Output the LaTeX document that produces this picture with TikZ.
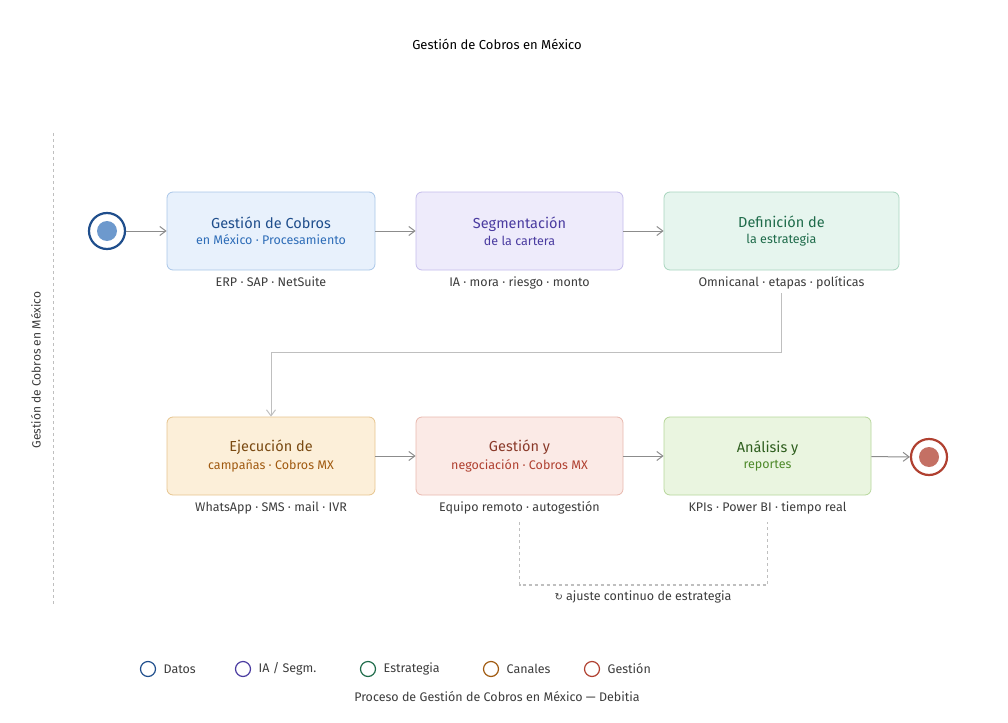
\documentclass[tikz,border=0pt]{standalone}
\usepackage{fontspec}
\setmainfont{Fira Sans}
\usetikzlibrary{positioning,arrows.meta,calc}
\definecolor{lineg}{RGB}{140,140,140}
\definecolor{txt}{RGB}{60,60,60}
\definecolor{bfill}{RGB}{232,241,252}\definecolor{bdraw}{RGB}{169,198,232}\definecolor{btit}{RGB}{31,78,140}\definecolor{bsub}{RGB}{46,109,184}
\definecolor{pfill}{RGB}{238,235,251}\definecolor{pdraw}{RGB}{196,188,235}\definecolor{ptit}{RGB}{74,59,160}
\definecolor{gfill}{RGB}{230,245,238}\definecolor{gdraw}{RGB}{168,213,190}\definecolor{gtit}{RGB}{30,107,74}
\definecolor{ofill}{RGB}{252,239,217}\definecolor{odraw}{RGB}{230,196,142}\definecolor{otit}{RGB}{122,74,18}\definecolor{osub}{RGB}{160,90,16}
\definecolor{rfill}{RGB}{251,234,230}\definecolor{rdraw}{RGB}{232,184,174}\definecolor{rtit}{RGB}{138,58,42}\definecolor{rsub}{RGB}{176,64,48}
\definecolor{lfill}{RGB}{234,245,224}\definecolor{ldraw}{RGB}{182,214,154}\definecolor{ltit}{RGB}{46,94,30}\definecolor{lsub}{RGB}{78,138,42}
\tikzset{
  stepbox/.style={draw=#1draw, fill=#1fill, rounded corners=6pt, line width=0.8pt,
    minimum height=78pt, align=center, inner sep=0pt},
  tag/.style={text=txt, font=\fontsize{12.5}{14}\selectfont},
  flow/.style={draw=lineg, line width=1pt, -{Straight Barb[length=6pt,width=9pt]}},
}
\newcommand\stagetxt[3]{{\fontsize{14.5}{17}\selectfont\color{#1tit}#2}\\[4pt]{\fontsize{12.5}{14}\selectfont\color{#1sub}#3}}
\colorlet{psub}{ptit}\colorlet{gsub}{gtit}

\begin{document}
\begin{tikzpicture}[x=1pt,y=-1pt]
\useasboundingbox (0,0) rectangle (1008,722);
\node[text=black, font=\fontsize{13}{15}\selectfont] (title) at (497,44) {Gestión de Cobros en México};

\draw[lightgray, dashed, line width=0.8pt] (53,133) -- (53,605);
\node[rotate=90, text=txt, font=\fontsize{12}{14}\selectfont] (lane) at (36,370) {Gestión de Cobros en México};

% first row
\node[stepbox=b, minimum width=208pt] (s1) at (271,231) {\stagetxt{b}{Gestión de Cobros}{en México · Procesamiento}};
\node[stepbox=p, minimum width=207pt] (s2) at (519.5,231) {\stagetxt{p}{Segmentación}{de la cartera}};
\node[stepbox=g, minimum width=235pt] (s3) at (781.5,231) {\stagetxt{g}{Definición de}{la estrategia}};
% second row
\node[stepbox=o, minimum width=208pt] (s4) at (271,456) {\stagetxt{o}{Ejecución de}{campañas · Cobros MX}};
\node[stepbox=r, minimum width=207pt] (s5) at (519.5,456) {\stagetxt{r}{Gestión y}{negociación · Cobros MX}};
\node[stepbox=l, minimum width=207pt] (s6) at (767.5,456) {\stagetxt{l}{Análisis y}{reportes}};

\node[tag, below=3pt of s1] (t1) {ERP · SAP · NetSuite};
\node[tag, below=3pt of s2] (t2) {IA · mora · riesgo · monto};
\node[tag, below=3pt of s3] (t3) {Omnicanal · etapas · políticas};
\node[tag, below=3pt of s4] (t4) {WhatsApp · SMS · mail · IVR};
\node[tag, below=3pt of s5] (t5) {Equipo remoto · autogestión};
\node[tag, below=3pt of s6] (t6) {KPIs · Power BI · tiempo real};

\node[circle, draw=btit, line width=2.2pt, fill=white, minimum size=36pt, inner sep=0pt] (start) at (107,231) {};
\fill[bsub!70] (start) circle (10pt);
\node[circle, draw=rsub, line width=2.2pt, fill=white, minimum size=36pt, inner sep=0pt] (finish) at (929,457) {};
\fill[rsub!75] (finish) circle (10pt);

\draw[flow] (start) -- (s1);
\draw[flow] (s1) -- (s2);
\draw[flow] (s2) -- (s3);
\draw[flow, draw=lightgray] (t3.south -| s3) -- ++(0,59) -| (s4.north);
\draw[flow] (s4) -- (s5);
\draw[flow] (s5) -- (s6);
\draw[flow] (s6) -- (finish);

% feedback loop
\coordinate (fb) at (643,585);
\draw[lightgray, dashed, line width=1.2pt] ($(t5.south)+(0,4)$) |- (fb) -| ($(t6.south)+(0,4)$);
\node[tag, below=2pt of fb] (loop) {\fontspec{DejaVu Sans}\fontsize{10}{12}\selectfont ↻\fontspec{Fira Sans}\fontsize{12.5}{14}\selectfont{} ajuste continuo de estrategia};

% legend
\foreach \x/\c/\t [count=\i] in {148/btit/Datos, 243/ptit/{IA / Segm.}, 368/gtit/Estrategia, 491/osub/Canales, 592/rsub/Gestión}{
  \node[circle, draw=\c, line width=1.2pt, minimum size=15pt, inner sep=0pt] (k\i) at (\x,669) {};
  \node[tag, right=4pt of k\i] (kt\i) {\t};
}
\node[tag] (caption) at (497,697) {Proceso de Gestión de Cobros en México — Debitia};
\end{tikzpicture}
\end{document}
